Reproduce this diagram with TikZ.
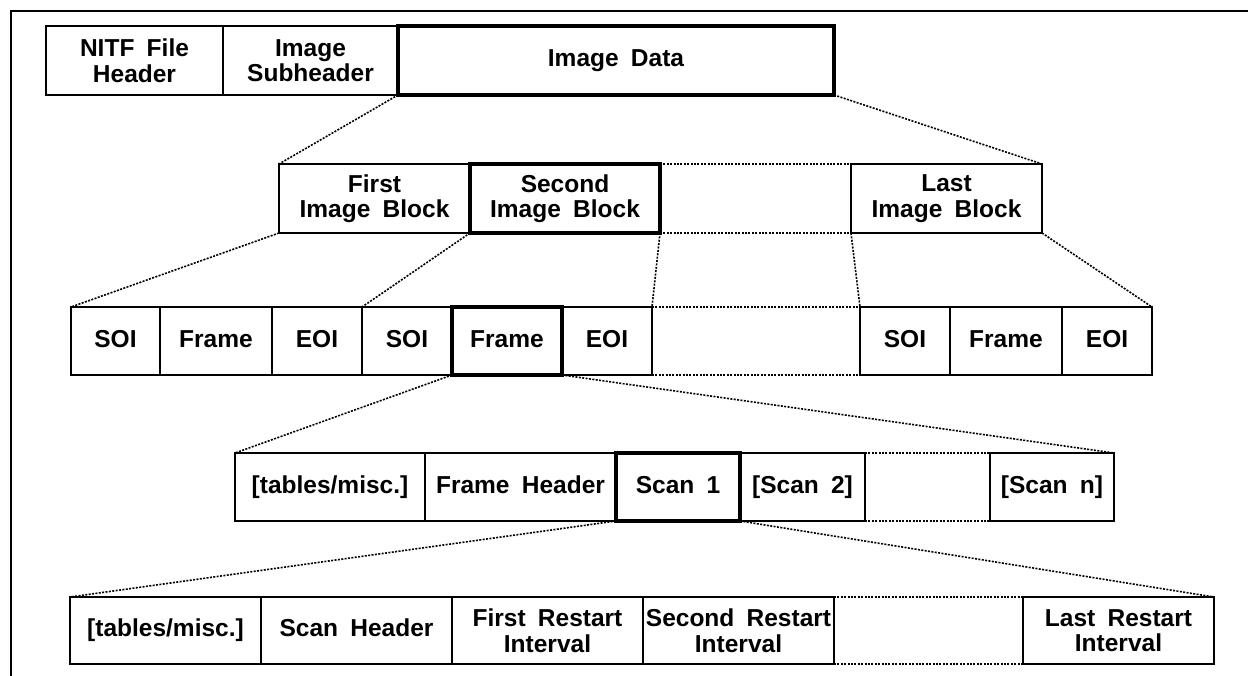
\documentclass[tikz,border=0pt]{standalone}
\usepackage{fontspec}
\setmainfont{Liberation Sans}[WordSpace=1.8]
\begin{document}
\begin{tikzpicture}[x=1pt,y=-1pt,
  box/.style={draw, line width=2pt, anchor=north west, inner sep=0pt, outer sep=0pt,
    align=center, font=\fontsize{24.5}{25.5}\selectfont\bfseries},
  thick box/.style={box, line width=3.2pt},
  one/.style={text height=17.5pt, text depth=5pt},
  dots/.style={line width=1.6pt, dash pattern=on 2pt off 1.4pt},
  frameline/.style={line width=2pt}]
\useasboundingbox (0,0) rectangle (1248,676);
% outer frame (clipped)
\coordinate (fa) at (11,676);
\coordinate (fb) at (11,11);
\coordinate (fc) at (1248,11);
\draw[frameline] (fa) -- (fb) -- (fc);
% row 1
\node[box, minimum width=177pt, minimum height=69pt] (nitf) at (46,26) {NITF File\\Header};
\node[box, minimum width=175pt, minimum height=69pt] (sub) at (223,26) {Image\\Subheader};
\node[thick box, one, minimum width=436pt, minimum height=69pt] (data) at (398,26) {Image Data};
% row 2
\node[box, minimum width=191pt, minimum height=69pt] (b1) at (279,164) {First\\Image Block};
\node[thick box, minimum width=190pt, minimum height=69pt] (b2) at (470,164) {Second\\Image Block};
\node[box, minimum width=191pt, minimum height=69pt] (bl) at (851,164) {Last\\Image Block};
% row 3
\node[box, one, minimum width=89pt, minimum height=68pt] (s1) at (71,307) {SOI};
\node[box, one, minimum width=112pt, minimum height=68pt] (f1) at (160,307) {Frame};
\node[box, one, minimum width=90pt, minimum height=68pt] (e1) at (272,307) {EOI};
\node[box, one, minimum width=90pt, minimum height=68pt] (s2) at (362,307) {SOI};
\node[thick box, one, minimum width=110pt, minimum height=68pt] (f2) at (452,307) {Frame};
\node[box, one, minimum width=90pt, minimum height=68pt] (e2) at (562,307) {EOI};
\node[box, one, minimum width=90pt, minimum height=68pt] (s3) at (860,307) {SOI};
\node[box, one, minimum width=112pt, minimum height=68pt] (f3) at (950,307) {Frame};
\node[box, one, minimum width=90pt, minimum height=68pt] (e3) at (1062,307) {EOI};
% row 4
\node[box, one, minimum width=190pt, minimum height=68pt] (t1) at (235,453) {[tables/misc.]};
\node[box, one, minimum width=191pt, minimum height=68pt] (fh) at (425,453) {Frame Header};
\node[thick box, one, minimum width=124pt, minimum height=68pt] (sc1) at (616,453) {Scan 1};
\node[box, one, minimum width=125pt, minimum height=68pt] (sc2) at (740,453) {[Scan 2]};
\node[box, one, minimum width=124pt, minimum height=68pt] (scn) at (990,453) {[Scan n]};
% row 5
\node[box, one, minimum width=191pt, minimum height=67pt] (t2) at (70,597) {[tables/misc.]};
\node[box, one, minimum width=191pt, minimum height=67pt] (sh) at (261,597) {Scan Header};
\node[box, minimum width=191pt, minimum height=67pt] (r1) at (452,597) {First Restart\\Interval};
\node[box, minimum width=191pt, minimum height=67pt] (r2) at (643,597) {Second Restart\\Interval};
\node[box, minimum width=191pt, minimum height=67pt] (rl) at (1023,597) {Last Restart\\Interval};
% gaps (dotted)
\draw[dots] (b2.north east) -- (bl.north west);
\draw[dots] (b2.south east) -- (bl.south west);
\draw[dots] (e2.north east) -- (s3.north west);
\draw[dots] (e2.south east) -- (s3.south west);
\draw[dots] (sc2.north east) -- (scn.north west);
\draw[dots] (sc2.south east) -- (scn.south west);
\draw[dots] (r2.north east) -- (rl.north west);
\draw[dots] (r2.south east) -- (rl.south west);
% expansion lines
\draw[dots] (data.south west) -- (b1.north west);
\draw[dots] (data.south east) -- (bl.north east);
\draw[dots] (b1.south west) -- (s1.north west);
\draw[dots] (b1.south east) -- (s2.north west);
\draw[dots] (b2.south east) -- (e2.north east);
\draw[dots] (bl.south west) -- (s3.north west);
\draw[dots] (bl.south east) -- (e3.north east);
\draw[dots] (f2.south west) -- (t1.north west);
\draw[dots] (f2.south east) -- (scn.north east);
\draw[dots] (sc1.south west) -- (t2.north west);
\draw[dots] (sc1.south east) -- (rl.north east);
\end{tikzpicture}
\end{document}
